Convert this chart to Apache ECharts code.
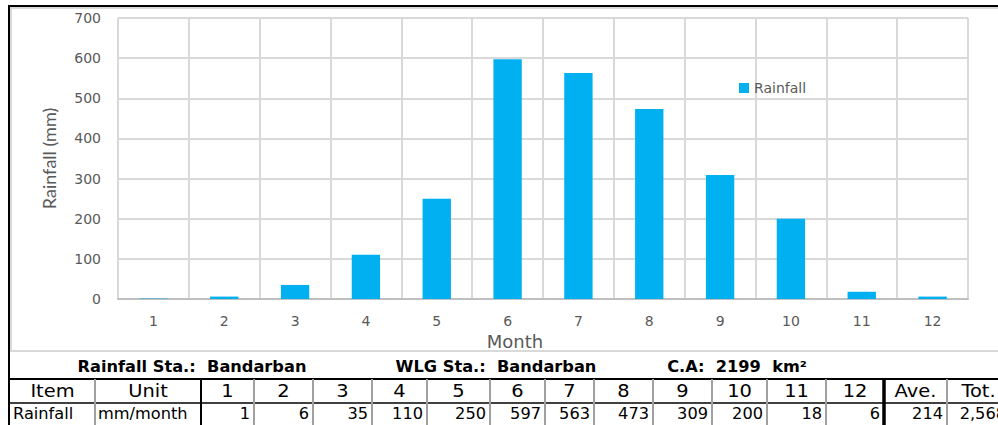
<!DOCTYPE html>
<html>
<head>
<meta charset="utf-8">
<script src="https://cdn.jsdelivr.net/npm/echarts@6/dist/echarts.min.js"></script>
<style>
  html, body { margin: 0; padding: 0; background: #ffffff; }
  #chart { width: 998px; height: 425px; }
</style>
</head>
<body>
<div id="chart"></div>
<script>
// Monthly rainfall, Bandarban station
const months = ['1', '2', '3', '4', '5', '6', '7', '8', '9', '10', '11', '12'];
const rainfall = [1, 6, 35, 110, 250, 597, 563, 473, 309, 200, 18, 6];
const seriesName = 'Rainfall';
const unitLabel = 'mm/month';
const stationLine = ['Rainfall Sta.:  Bandarban', 'WLG Sta.:  Bandarban', 'C.A:  2199  km²'];
const tableHead = ['Item', 'Unit'];
const summaryHead = ['Ave.', 'Tot.'];

const total = rainfall.reduce((a, b) => a + b, 0);
const average = Math.round(total / rainfall.length);
const fmt = v => v.toLocaleString('en-US');

// table layout
const colEdges = [10, 95, 201, 254, 313, 372, 427, 490, 545, 594, 653, 712, 767, 826, 884, 947, 1010];
const tableTop = 379, rowSplit = 403, tableBottom = 430;
const SX = 1.08;

const gfx = [];
function line(x1, y1, x2, y2, stroke, lw) {
  gfx.push({ type: 'line', silent: true, shape: { x1, y1, x2, y2 }, style: { stroke, lineWidth: lw } });
}
function text(x, y, str, font, align, fill) {
  gfx.push({
    type: 'text', silent: true, x, y, scaleX: SX, originX: 0, originY: 0,
    style: { text: str, font, fill: fill || '#000', textAlign: align, align: align,
             textVerticalAlign: 'middle', verticalAlign: 'middle' }
  });
}

// outer frame and chart panel
line(8, 6, 998, 6, '#000', 2);
line(9, 5, 9, 425, '#000', 2);
gfx.push({ type: 'rect', silent: true, shape: { x: 11, y: 8, width: 1000, height: 343 },
           style: { fill: 'none', stroke: '#d9d9d9', lineWidth: 2 } });

// station line
const infoX = [192, 496, 737];
stationLine.forEach((s, i) => text(infoX[i], 367, s, 'bold 15px "DejaVu Sans"', 'center', '#000'));

// table grid
line(9, tableTop, 998, tableTop, '#000', 2);
line(9, rowSplit, 998, rowSplit, '#000', 1.5);
for (let i = 1; i < colEdges.length - 1; i++) {
  const x = colEdges[i];
  let stroke = '#a0a0a0', lw = 2;
  if (i === 2) { stroke = '#000'; lw = 2; }
  if (i === 14) { stroke = '#000'; lw = 3.5; }
  line(x, tableTop, x, tableBottom, stroke, lw);
}

// header and data rows
const headRow = tableHead.concat(months, summaryHead);
const dataRow = [seriesName, unitLabel].concat(rainfall.map(fmt), [fmt(average), fmt(total)]);
headRow.forEach((s, i) => {
  const cx = (colEdges[i] + colEdges[i + 1]) / 2;
  text(cx, 391, s, '18px "DejaVu Sans"', 'center', '#000');
});
dataRow.forEach((s, i) => {
  if (i < 2) {
    text(colEdges[i] + 3, 414, s, '15px "DejaVu Sans"', 'left', '#000');
  } else {
    text(colEdges[i + 1] - 4, 414, s, '15px "DejaVu Sans"', 'right', '#000');
  }
});

const chart = echarts.init(document.getElementById('chart'), null, { renderer: 'svg' });
chart.setOption({
  animation: false,
  backgroundColor: '#ffffff',
  grid: { left: 118, right: 30, top: 18, bottom: 126, containLabel: false },
  legend: {
    data: [seriesName],
    left: 734, top: 76,
    itemWidth: 10, itemHeight: 10, itemGap: 6,
    icon: 'rect',
    textStyle: { color: '#595959', fontSize: 14, fontFamily: 'DejaVu Sans' }
  },
  xAxis: {
    type: 'category',
    data: months,
    name: 'Month',
    nameLocation: 'middle',
    nameGap: 25,
    nameTextStyle: { color: '#595959', fontSize: 18, fontFamily: 'DejaVu Sans', padding: [0, 56, 0, 0] },
    axisLine: { show: true, lineStyle: { color: '#bfbfbf', width: 2 } },
    axisTick: { show: false },
    axisLabel: { color: '#595959', fontSize: 14, fontFamily: 'DejaVu Sans', margin: 15 },
    splitLine: { show: true, lineStyle: { color: '#d9d9d9', width: 2 } }
  },
  yAxis: {
    type: 'value',
    min: 0, max: 700, interval: 100,
    name: 'Rainfall (mm)',
    nameLocation: 'middle',
    nameGap: 60,
    nameTextStyle: { color: '#595959', fontSize: 18, fontFamily: 'Lato' },
    axisLine: { show: false },
    axisTick: { show: false },
    axisLabel: { color: '#595959', fontSize: 14, fontFamily: 'DejaVu Sans', margin: 17 },
    splitLine: { show: true, lineStyle: { color: '#d9d9d9', width: 2 } }
  },
  series: [{
    name: seriesName,
    type: 'bar',
    data: rainfall,
    barWidth: '40%',
    itemStyle: { color: '#00b0f0' }
  }],
  graphic: { elements: gfx }
});
</script>
</body>
</html>
